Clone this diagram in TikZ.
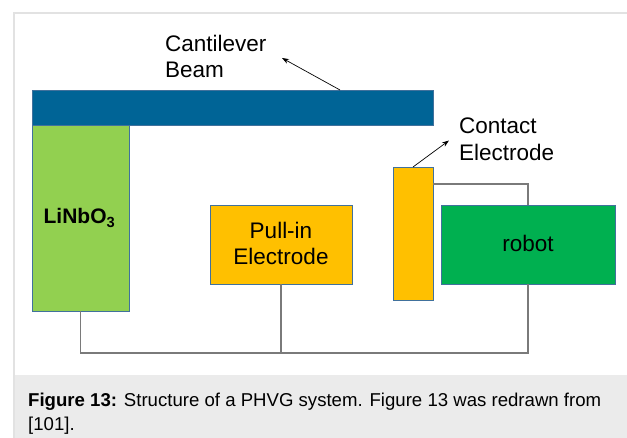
\documentclass[tikz,border=0pt]{standalone}
\usepackage{fontspec}
\setmainfont{Liberation Sans}
\usetikzlibrary{arrows.meta,calc}
\definecolor{beamblue}{HTML}{006496}
\definecolor{lgreen}{HTML}{92D050}
\definecolor{amber}{HTML}{FFC000}
\definecolor{dgreen}{HTML}{00B050}
\definecolor{boxline}{HTML}{41719C}
\definecolor{wire}{HTML}{7A7A7A}
\definecolor{framegray}{HTML}{E2E2E2}
\definecolor{capgray}{HTML}{EBEBEB}
\tikzset{
  box/.style={draw=boxline, line width=0.8pt, inner sep=0pt, outer sep=0pt, anchor=north west},
  lbl/.style={font=\fontsize{22.5}{26}\selectfont, inner sep=0pt, align=center},
  wireline/.style={draw=wire, line width=1.3pt},
  arr/.style={draw=black, line width=0.7pt, -{Stealth[length=7pt,width=5pt]}},
  captxt/.style={font=\fontsize{18.6}{22}\selectfont, inner sep=0pt, anchor=base west}
}
\begin{document}
\begin{tikzpicture}[x=1pt,y=-1pt]
\useasboundingbox (0,0) rectangle (627,438);
% frame and caption band
\fill[white] (0,0) rectangle (627,438);
\draw[framegray, line width=1.5pt] (14,460) -- (14,13) -- (660,13);
\fill[capgray] (14.75,375) rectangle (627,438);
% boxes
\node[box, fill=beamblue, minimum width=401pt, minimum height=35pt] (beam) at (32,90) {};
\node[box, fill=lgreen, minimum width=97pt, minimum height=186pt] (lin) at (32,125) {};
\node[font=\fontsize{21}{24}\selectfont\bfseries, inner sep=0pt] (linlbl) at ($(lin.center)+(-1,0)$) {LiNbO\textsubscript{3}};
\node[box, fill=amber, minimum width=142pt, minimum height=79pt] (pull) at (210,205) {};
\node[lbl] (pulllbl) at ($(pull.center)+(0,-1)$) {Pull-in\\Electrode};
\node[box, fill=amber, minimum width=40pt, minimum height=133pt] (cont) at (393,167) {};
\node[box, fill=dgreen, minimum width=174pt, minimum height=79pt] (robot) at (441,205) {};
\node[lbl] (robotlbl) at ($(robot.center)+(0,-1)$) {robot};
% labels
\node[lbl, anchor=base west] (cant1) at (165,52) {Cantilever};
\node[lbl, anchor=base west] (cant2) at (165,78) {Beam};
\node[lbl, anchor=base west] (cont1) at (459,134) {Contact};
\node[lbl, anchor=base west] (cont2) at (459,161) {Electrode};
% arrows
\coordinate (cantfoot) at (340,90);
\coordinate (canttip) at (282,58);
\coordinate (contfoot) at (413,167);
\coordinate (conttip) at (449,140.5);
\draw[arr] (cantfoot) -- (canttip);
\draw[arr] (contfoot) -- (conttip);
% wires
\coordinate (bus) at (0,353);
\coordinate (top) at (0,184);
\draw[wireline] (lin.south) -- (lin.south |- bus) -- (robot.south |- bus) -- (robot.south);
\draw[wireline] (pull.south) -- (pull.south |- bus);
\draw[wireline] (cont.east |- top) -- (robot.north |- top) -- (robot.north);
% caption
\node[captxt] (cap1) at (28,407) {\textbf{Figure 13:} Structure of a PHVG system. Figure 13 was redrawn from};
\node[captxt] (cap2) at (28,431) {[101].};
\end{tikzpicture}
\end{document}
